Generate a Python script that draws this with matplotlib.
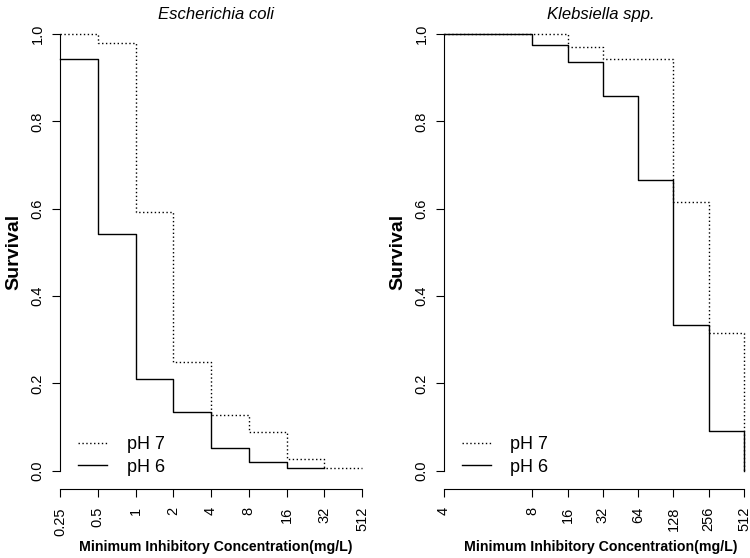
import numpy as np
import matplotlib
matplotlib.use("Agg")
from matplotlib import pyplot as plt

plt.rcParams['font.family'] = ['Liberation Sans', 'DejaVu Sans']

# E. coli panel: ticks are equally spaced categories
ecoli_labels = ['0.25', '0.5', '1', '2', '4', '8', '16', '32', '512']
ecoli_pos = [0, 1, 2, 3, 4, 5, 6, 7, 8]
ecoli_ph7 = [1.0, 0.980, 0.593, 0.249, 0.128, 0.089, 0.027, 0.007, 0.007]
ecoli_ph6 = [0.942, 0.541, 0.211, 0.134, 0.052, 0.020, 0.007, 0.007]

# Klebsiella panel: 4 sits further left of 8
kleb_labels = ['4', '8', '16', '32', '64', '128', '256', '512']
kleb_pos = [0, 2.5, 3.5, 4.5, 5.5, 6.5, 7.5, 8.5]
kleb_ph7 = [1.0, 1.0, 0.971, 0.942, 0.942, 0.615, 0.316, 0.0]
kleb_ph6 = [1.0, 0.974, 0.936, 0.859, 0.666, 0.334, 0.091, 0.0]

fig = plt.figure(figsize=(7.5, 5.58), dpi=100)
W, H = 750, 558
top, bottom = 34, 470.7


def make_ax(x0, x1):
    return fig.add_axes([x0 / W, 1 - bottom / H, (x1 - x0) / W, (bottom - top) / H])


def style(ax, pos, labels, title, shift):
    ax.set_xlim(pos[0], pos[-1])
    ax.set_ylim(0, 1)
    ax.spines['top'].set_visible(False)
    ax.spines['right'].set_visible(False)
    ax.spines['bottom'].set_position(('outward', 13.2))
    ax.set_xticks(pos)
    ax.set_xticklabels(labels, rotation=90)
    ax.set_yticks([0, 0.2, 0.4, 0.6, 0.8, 1.0])
    ax.set_yticklabels(['0.0', '0.2', '0.4', '0.6', '0.8', '1.0'], rotation=90, va='center')
    ax.tick_params(axis='both', length=6, width=0.8, labelsize=10.5, pad=5)
    ax.tick_params(axis='x', pad=7)
    ax.set_title(title, fontstyle='italic', fontsize=12, x=0.5 + shift, pad=11)
    ax.set_ylabel('Survival', fontweight='bold', fontsize=14, labelpad=6)
    ax.set_xlabel('Minimum Inhibitory Concentration(mg/L)', fontweight='bold', fontsize=10.2)
    ax.xaxis.set_label_coords(0.5 + shift, -69 / (bottom - top), transform=ax.transAxes)
    ax.legend(loc='lower left', frameon=False, fontsize=13, handlelength=1.6,
              handletextpad=1.1, borderaxespad=0.0, labelspacing=0.3,
              bbox_to_anchor=(0.035, -0.028))


ax1 = make_ax(60, 362)
ax1.step(ecoli_pos, ecoli_ph7, where='post', color='black', lw=1.0,
         ls=(0, (1, 1.8)), clip_on=False, label='pH 7')
ax1.step(ecoli_pos[:-1], ecoli_ph6, where='post', color='black', lw=1.0,
         clip_on=False, label='pH 6')
style(ax1, ecoli_pos, ecoli_labels, 'Escherichia coli', 5 / 302)

ax2 = make_ax(444, 744)
ax2.step(kleb_pos, kleb_ph7, where='post', color='black', lw=1.0,
         ls=(0, (1, 1.8)), clip_on=False, label='pH 7')
ax2.step(kleb_pos, kleb_ph6, where='post', color='black', lw=1.0,
         clip_on=False, label='pH 6')
style(ax2, kleb_pos, kleb_labels, 'Klebsiella spp.', 7 / 300)

fig.savefig('out.png', dpi=100)
